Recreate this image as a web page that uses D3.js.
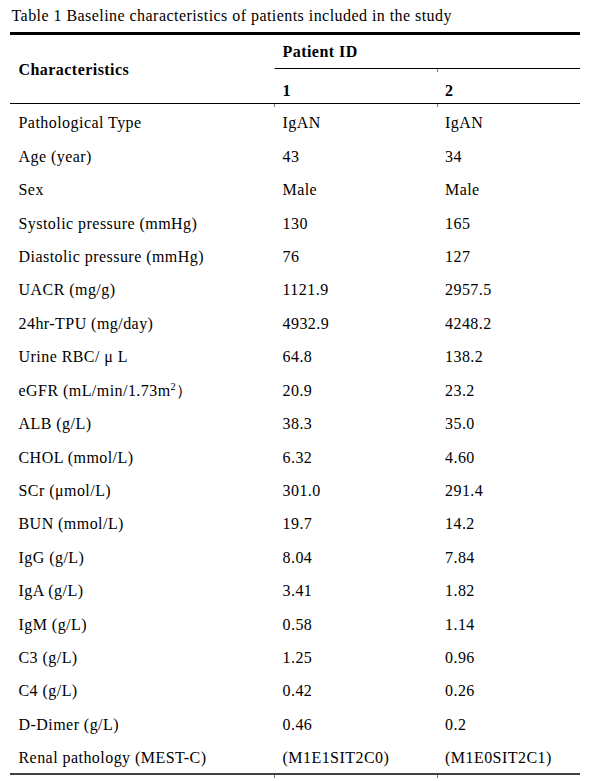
<!DOCTYPE html>
<html lang="en">
    <head>
        <meta charset="utf-8">
        <title>Table 1 Baseline characteristics</title>
        <script src="https://cdn.jsdelivr.net/npm/d3@7"></script>
        <style>
            body { margin: 0; background: #fff; }
            svg text { letter-spacing: 0.45px; }
        </style>
    </head>
    <body>
        <script>
            //Width and height
            var w = 589;
            var h = 781;

            //Data
            var title = "Table 1 Baseline characteristics of patients included in the study";
            var headers = ["Characteristics", "Patient ID"];
            var patientIds = ["1", "2"];
            var characteristics = [
                "Pathological Type", "Age (year)", "Sex", "Systolic pressure (mmHg)",
                "Diastolic pressure (mmHg)", "UACR (mg/g)", "24hr-TPU (mg/day)", "Urine RBC/ \u03bc L",
                "eGFR (mL/min/1.73m^2\uff09", "ALB (g/L)", "CHOL (mmol/L)", "SCr (\u03bcmol/L)",
                "BUN (mmol/L)", "IgG (g/L)", "IgA (g/L)", "IgM (g/L)", "C3 (g/L)", "C4 (g/L)",
                "D-Dimer (g/L)", "Renal pathology (MEST-C)"
            ];
            var patient1 = ["IgAN", "43", "Male", "130", "76", "1121.9", "4932.9", "64.8", "20.9",
                "38.3", "6.32", "301.0", "19.7", "8.04", "3.41", "0.58", "1.25", "0.42", "0.46", "(M1E1SIT2C0)"];
            var patient2 = ["IgAN", "34", "Male", "165", "127", "2957.5", "4248.2", "138.2", "23.2",
                "35.0", "4.60", "291.4", "14.2", "7.84", "1.82", "1.14", "0.96", "0.26", "0.2", "(M1E0SIT2C1)"];

            var svg = d3.select("body")
                        .append("svg")
                        .attr("width", w)
                        .attr("height", h)
                        .style("font-family", "'Liberation Serif', 'Times New Roman', serif")
                        .style("fill", "#000");

            //row baselines and column positions
            var y = d3.scaleLinear().domain([0, characteristics.length - 1]).range([128.3, 763.3]);
            var x = d3.scaleOrdinal().domain(["label", "p1", "p2"]).range([18.5, 282.5, 445]);
            var left = 10, right = 580, split1 = 274.5, split2 = 437.5;

            svg.append("text")
                .attr("x", 11.5).attr("y", 20.7)
                .attr("font-size", 16)
                .text(title);

            //rules
            function rule(x1, x2, yy, sw) {
                svg.append("line")
                    .attr("x1", x1).attr("x2", x2)
                    .attr("y1", yy).attr("y2", yy)
                    .attr("stroke", "#000")
                    .attr("stroke-width", sw);
            }
            function tick(xx, yy) {
                svg.append("line")
                    .attr("x1", xx).attr("x2", xx)
                    .attr("y1", yy).attr("y2", yy + 3)
                    .attr("stroke", "#555")
                    .attr("stroke-width", 0.8);
            }
            rule(left, right, 33.5, 3);
            rule(split1, right, 68.5, 1.2);
            rule(left, right, 103.5, 1.2);
            rule(left, right, 774, 1.6);
            tick(split2, 69);
            tick(split1, 104); tick(split2, 104);
            tick(split1, 775); tick(split2, 775);

            //header
            svg.append("text")
                .attr("x", x("label")).attr("y", 75)
                .attr("font-size", 16).attr("font-weight", "bold")
                .text(headers[0]);
            svg.append("text")
                .attr("x", x("p1")).attr("y", 56.7)
                .attr("font-size", 16).attr("font-weight", "bold")
                .text(headers[1]);
            svg.selectAll("text.pid")
                .data(patientIds)
                .enter()
                .append("text")
                .attr("class", "pid")
                .attr("x", function(d, i) { return x(i === 0 ? "p1" : "p2"); })
                .attr("y", 96)
                .attr("font-size", 16).attr("font-weight", "bold")
                .text(function(d) { return d; });

            //body rows
            var rows = characteristics.map(function(c, i) {
                return { label: c, p1: patient1[i], p2: patient2[i], i: i };
            });

            var label = svg.selectAll("text.label")
                .data(rows)
                .enter()
                .append("text")
                .attr("class", "label")
                .attr("x", x("label"))
                .attr("y", function(d) { return y(d.i); })
                .attr("font-size", 16);

            label.each(function(d) {
                var t = d3.select(this);
                var parts = d.label.split("^");
                if (parts.length === 1) {
                    t.text(d.label);
                } else {
                    //superscript for m2
                    t.append("tspan").text(parts[0]);
                    t.append("tspan")
                        .attr("font-size", 10.5)
                        .attr("dy", -6)
                        .text(parts[1].charAt(0));
                    t.append("tspan")
                        .attr("dy", 6)
                        .text(parts[1].slice(1));
                }
            });

            ["p1", "p2"].forEach(function(k) {
                svg.selectAll("text." + k)
                    .data(rows)
                    .enter()
                    .append("text")
                    .attr("class", k)
                    .attr("x", x(k))
                    .attr("y", function(d) { return y(d.i); })
                    .attr("font-size", 16)
                    .text(function(d) { return d[k]; });
            });
        </script>
    </body>
</html>
